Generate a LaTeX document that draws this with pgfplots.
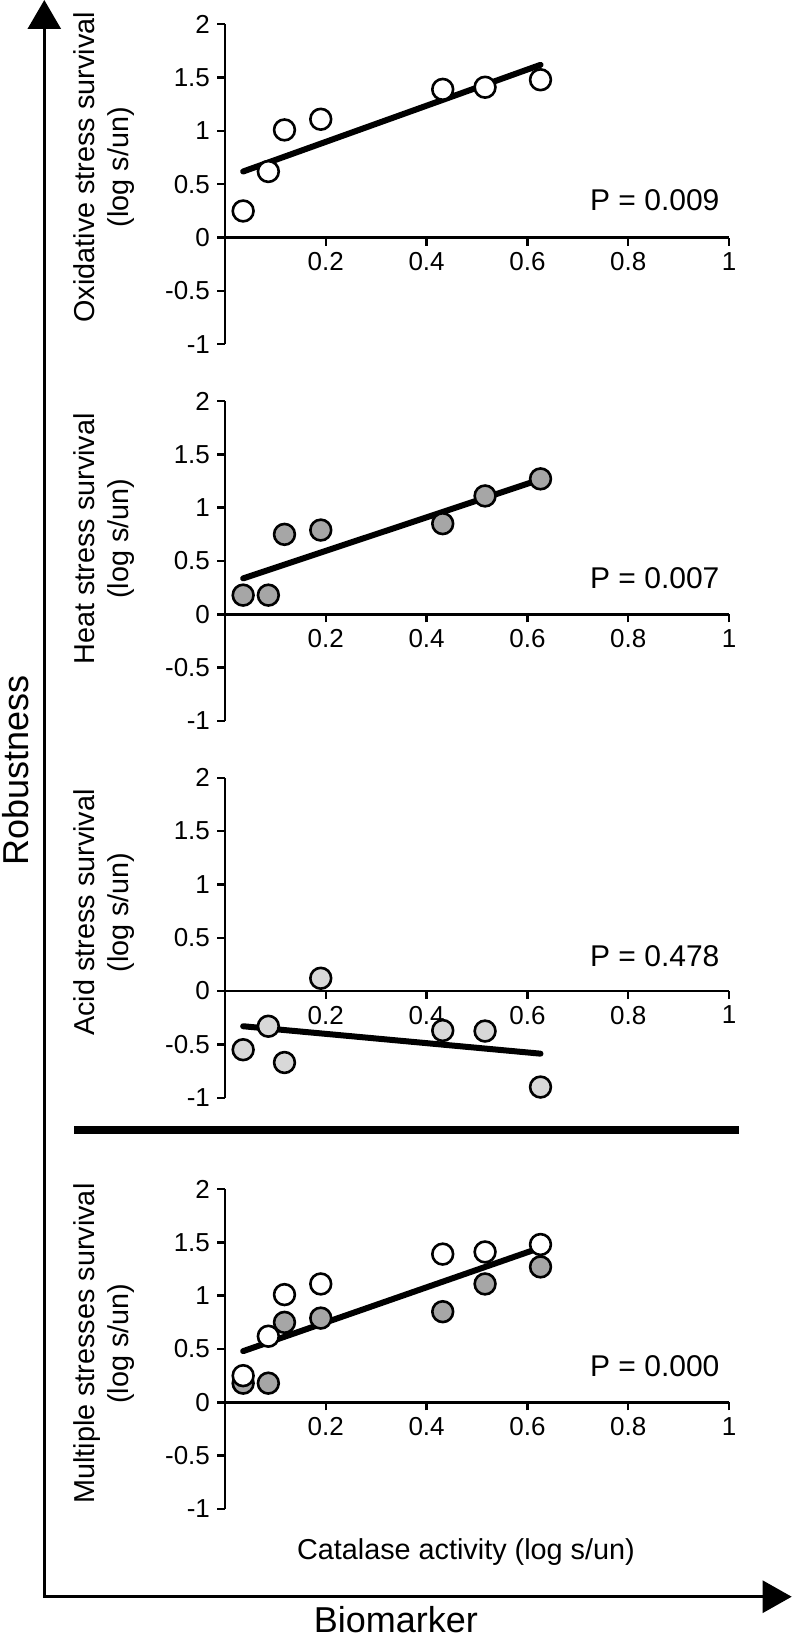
\documentclass[border=0pt]{standalone}
\usepackage{fontspec}
\setmainfont{Liberation Sans}
\usepackage{pgfplots}
\pgfplotsset{compat=1.18}
\usetikzlibrary{arrows.meta}
\definecolor{heatgray}{RGB}{166,166,166}
\definecolor{acidgray}{RGB}{216,216,216}
\pgfplotsset{
  panel/.style={
    set layers,
    scale only axis, width=252pt, height=160pt,
    xmin=0, xmax=1, ymin=-1, ymax=2,
    axis x line*=middle, axis y line*=left,
    axis line style={line width=1.2pt, -},
    every tick/.style={line width=1.2pt, black},
    tick align=outside, major tick length=4pt,
    xtick={0.2,0.4,0.6,0.8,1}, xticklabels={0.2,0.4,0.6,0.8,1},
    ytick={-1,-0.5,0,0.5,1,1.5,2}, yticklabels={-1,-0.5,0,0.5,1,1.5,2},
    tick label style={font=\fontsize{13}{15.6}\selectfont},
    label style={font=\fontsize{14.4}{17}\selectfont, align=center},
    clip=false,
    anchor=south west,
  },
  pts/.style={only marks, mark=*, mark size=5.2pt, mark options={line width=1.3pt, draw=black, fill=#1}},
  reg/.style={no marks, line width=3pt, line cap=round, black},
}
\newcommand{\pfont}{\fontsize{15}{18}\selectfont}
\begin{document}
\begin{tikzpicture}
\path (0pt,0pt) rectangle (398pt,-818pt);

% Panel 1: oxidative
\begin{axis}[panel, at={(112.5pt,-172.15pt)},
  ylabel={Oxidative stress survival\\(log s/un)},
  ylabel style={at={(axis description cs:-0.239,0.553)}, anchor=center}]
\addplot[pts=white] coordinates {(0.036,0.25) (0.086,0.62) (0.118,1.01) (0.19,1.11) (0.432,1.39) (0.516,1.41) (0.626,1.48)};
\addplot[reg] coordinates {(0.036,0.62) (0.626,1.62)};
\node[anchor=base east, font=\pfont] at (axis cs:0.995,0.25) {P = 0.009};
\end{axis}

% Panel 2: heat
\begin{axis}[panel, at={(112.5pt,-360.5pt)},
  ylabel={Heat stress survival\\(log s/un)},
  ylabel style={at={(axis description cs:-0.239,0.569)}, anchor=center}]
\addplot[pts=heatgray] coordinates {(0.036,0.18) (0.086,0.18) (0.118,0.75) (0.19,0.79) (0.432,0.85) (0.516,1.11) (0.626,1.27)};
\addplot[reg] coordinates {(0.036,0.337) (0.626,1.265)};
\node[anchor=base east, font=\pfont] at (axis cs:0.995,0.244) {P = 0.007};
\end{axis}

% Panel 3: acid
\begin{axis}[panel, at={(112.5pt,-548.85pt)},
  ylabel={Acid stress survival\\(log s/un)},
  ylabel style={at={(axis description cs:-0.239,0.579)}, anchor=center}]
\addplot[pts=acidgray] coordinates {(0.036,-0.55) (0.086,-0.33) (0.118,-0.67) (0.19,0.12) (0.432,-0.37) (0.516,-0.375) (0.626,-0.90)};
\addplot[reg] coordinates {(0.036,-0.33) (0.626,-0.587)};
\node[anchor=base east, font=\pfont] at (axis cs:0.995,0.23) {P = 0.478};
\end{axis}

% Panel 4: multiple
\begin{axis}[panel, at={(112.5pt,-754.5pt)},
  ylabel={Multiple stresses survival\\(log s/un)},
  ylabel style={at={(axis description cs:-0.239,0.517)}, anchor=center},
  xlabel={Catalase activity (log s/un)},
  xlabel style={at={(axis description cs:0.478,-0.157)}, anchor=base}]
\addplot[pts=heatgray] coordinates {(0.036,0.18) (0.086,0.18) (0.118,0.75) (0.19,0.79) (0.432,0.85) (0.516,1.11) (0.626,1.27)};
\addplot[pts=white] coordinates {(0.036,0.25) (0.086,0.62) (0.118,1.01) (0.19,1.11) (0.432,1.39) (0.516,1.41) (0.626,1.48)};
\addplot[reg] coordinates {(0.036,0.48) (0.626,1.45)};
\node[anchor=base east, font=\pfont] at (axis cs:0.995,0.246) {P = 0.000};
\end{axis}

% separator
\draw[line width=4pt] (37pt,-565pt) -- (369.65pt,-565pt);
% big arrows
\draw[line width=1.35pt, {Triangle[width=16.5pt,length=14.5pt]}-{Triangle[width=16pt,length=14.5pt]}]
  (22.15pt,0pt) -- (22.15pt,-798.35pt) -- (395.85pt,-798.35pt);
\node[rotate=90, anchor=base, font=\fontsize{18}{21}\selectfont] at (14.2pt,-385.25pt) {Robustness};
\node[anchor=base, inner sep=0pt, font=\fontsize{18}{21}\selectfont] at (197.9pt,-816pt) {Biomarker};
\pgfresetboundingbox
\path[use as bounding box] (0pt,0pt) rectangle (398pt,-818pt);
\end{tikzpicture}
\end{document}
